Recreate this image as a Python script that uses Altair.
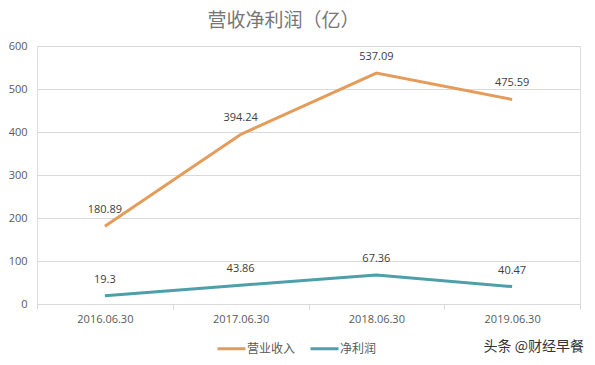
import altair as alt
import pandas as pd

dates = ["2016.06.30", "2017.06.30", "2018.06.30", "2019.06.30"]
revenue = [180.89, 394.24, 537.09, 475.59]
net_profit = [19.3, 43.86, 67.36, 40.47]
series_names = ["营业收入", "净利润"]
colors = ["#E59C5A", "#4E9FA9"]
y_ticks = [0, 100, 200, 300, 400, 500, 600]

rows = []
for d, v in zip(dates, revenue):
    rows.append({"date": d, "value": v, "series": series_names[0], "label": f"{v:g}"})
for d, v in zip(dates, net_profit):
    rows.append({"date": d, "value": v, "series": series_names[1], "label": f"{v:g}"})
df = pd.DataFrame(rows)

num_font = "Open Sans"
cjk_font = "Noto Sans CJK SC"

x_enc = alt.X(
    "date:N",
    sort=dates,
    bandPosition=0.5,
    scale=alt.Scale(type="band", paddingInner=0, paddingOuter=0),
    axis=alt.Axis(
        title=None,
        labelAngle=0,
        labelFont=num_font,
        labelFontSize=11,
        labelColor="#595959",
        labelPadding=4,
        tickBand="extent",
        tickSize=5,
        tickColor="#d9d9d9",
        domainColor="#d9d9d9",
        grid=False,
    ),
)
y_enc = alt.Y(
    "value:Q",
    scale=alt.Scale(domain=[0, 600], nice=False),
    axis=alt.Axis(
        title=None,
        values=y_ticks,
        labelFont=num_font,
        labelFontSize=11,
        labelColor="#595959",
        labelPadding=10,
        ticks=False,
        domain=False,
        gridColor="#d9d9d9",
        gridWidth=1,
    ),
)
color_enc = alt.Color(
    "series:N",
    sort=series_names,
    scale=alt.Scale(domain=series_names, range=colors),
    legend=alt.Legend(
        title=None,
        orient="none",
        direction="horizontal",
        legendX=179,
        legendY=287,
        symbolType="stroke",
        symbolSize=784,
        symbolStrokeWidth=3,
        labelFont=cjk_font,
        labelFontSize=12,
        labelColor="#595959",
        labelOffset=0,
        columnPadding=8,
        padding=0,
    ),
)

lines = alt.Chart(df).mark_line(strokeWidth=3).encode(
    x=x_enc, y=y_enc, color=color_enc, detail="series:N"
)
labels = alt.Chart(df).mark_text(
    dy=-16, font=num_font, fontSize=11, color="#404040"
).encode(x=x_enc, y=y_enc, text="label:N")

watermark = alt.Chart(pd.DataFrame({"t": ["头条 @财经早餐"]})).mark_text(
    align="right", baseline="middle", font=cjk_font, fontSize=14, color="#333333"
).encode(x=alt.value(547), y=alt.value(301), text="t:N")

chart = (
    alt.layer(lines, labels, watermark)
    .properties(
        width=543,
        height=258,
        padding={"top": 4, "left": 0, "right": 0, "bottom": 0},
        title=alt.TitleParams(
            "营收净利润（亿）",
            font=cjk_font,
            fontSize=19,
            fontWeight="normal",
            color="#767676",
            anchor="middle",
            dx=-25,
            offset=9,
        ),
    )
    .configure_view(stroke=None)
    .configure(background="white")
)

chart.save("out.html", embed_options={"renderer": "svg", "actions": False})
